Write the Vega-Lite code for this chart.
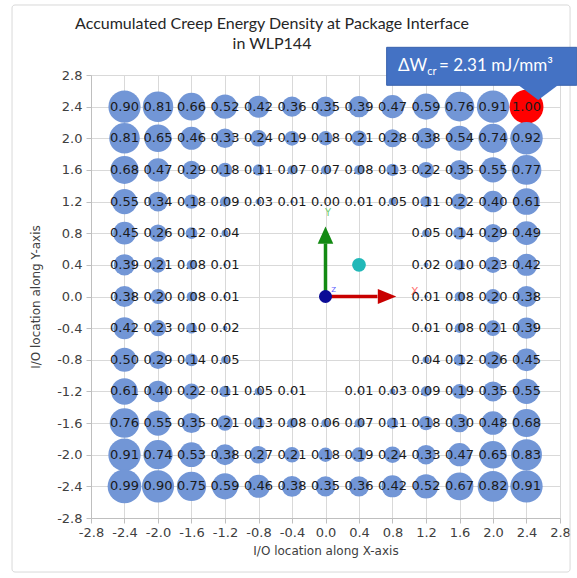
{
  "$schema": "https://vega.github.io/schema/vega-lite/v6.json",
  "width": 469,
  "height": 443,
  "autosize": "none",
  "padding": {"left": 91, "top": 75, "right": 17, "bottom": 60},
  "background": "white",
  "config": {"view": {"stroke": null}, "font": "DejaVu Sans"},
  "datasets": {
    "bubbles": [
      {"x":-2.4,"y":2.4,"v":0.90},{"x":-2.0,"y":2.4,"v":0.81},{"x":-1.6,"y":2.4,"v":0.66},{"x":-1.2,"y":2.4,"v":0.52},{"x":-0.8,"y":2.4,"v":0.42},{"x":-0.4,"y":2.4,"v":0.36},{"x":0,"y":2.4,"v":0.35},{"x":0.4,"y":2.4,"v":0.39},{"x":0.8,"y":2.4,"v":0.47},{"x":1.2,"y":2.4,"v":0.59},{"x":1.6,"y":2.4,"v":0.76},{"x":2.0,"y":2.4,"v":0.91},{"x":2.4,"y":2.4,"v":1.00},
      {"x":-2.4,"y":2.0,"v":0.81},{"x":-2.0,"y":2.0,"v":0.65},{"x":-1.6,"y":2.0,"v":0.46},{"x":-1.2,"y":2.0,"v":0.33},{"x":-0.8,"y":2.0,"v":0.24},{"x":-0.4,"y":2.0,"v":0.19},{"x":0,"y":2.0,"v":0.18},{"x":0.4,"y":2.0,"v":0.21},{"x":0.8,"y":2.0,"v":0.28},{"x":1.2,"y":2.0,"v":0.38},{"x":1.6,"y":2.0,"v":0.54},{"x":2.0,"y":2.0,"v":0.74},{"x":2.4,"y":2.0,"v":0.92},
      {"x":-2.4,"y":1.6,"v":0.68},{"x":-2.0,"y":1.6,"v":0.47},{"x":-1.6,"y":1.6,"v":0.29},{"x":-1.2,"y":1.6,"v":0.18},{"x":-0.8,"y":1.6,"v":0.11},{"x":-0.4,"y":1.6,"v":0.07},{"x":0,"y":1.6,"v":0.07},{"x":0.4,"y":1.6,"v":0.08},{"x":0.8,"y":1.6,"v":0.13},{"x":1.2,"y":1.6,"v":0.22},{"x":1.6,"y":1.6,"v":0.35},{"x":2.0,"y":1.6,"v":0.55},{"x":2.4,"y":1.6,"v":0.77},
      {"x":-2.4,"y":1.2,"v":0.55},{"x":-2.0,"y":1.2,"v":0.34},{"x":-1.6,"y":1.2,"v":0.18},{"x":-1.2,"y":1.2,"v":0.09},{"x":-0.8,"y":1.2,"v":0.03},{"x":-0.4,"y":1.2,"v":0.01},{"x":0,"y":1.2,"v":0.00},{"x":0.4,"y":1.2,"v":0.01},{"x":0.8,"y":1.2,"v":0.05},{"x":1.2,"y":1.2,"v":0.11},{"x":1.6,"y":1.2,"v":0.22},{"x":2.0,"y":1.2,"v":0.40},{"x":2.4,"y":1.2,"v":0.61},
      {"x":-2.4,"y":0.8,"v":0.45},{"x":-2.0,"y":0.8,"v":0.26},{"x":-1.6,"y":0.8,"v":0.12},{"x":-1.2,"y":0.8,"v":0.04},{"x":1.2,"y":0.8,"v":0.05},{"x":1.6,"y":0.8,"v":0.14},{"x":2.0,"y":0.8,"v":0.29},{"x":2.4,"y":0.8,"v":0.49},
      {"x":-2.4,"y":0.4,"v":0.39},{"x":-2.0,"y":0.4,"v":0.21},{"x":-1.6,"y":0.4,"v":0.08},{"x":-1.2,"y":0.4,"v":0.01},{"x":1.2,"y":0.4,"v":0.02},{"x":1.6,"y":0.4,"v":0.10},{"x":2.0,"y":0.4,"v":0.23},{"x":2.4,"y":0.4,"v":0.42},
      {"x":-2.4,"y":0,"v":0.38},{"x":-2.0,"y":0,"v":0.20},{"x":-1.6,"y":0,"v":0.08},{"x":-1.2,"y":0,"v":0.01},{"x":1.2,"y":0,"v":0.01},{"x":1.6,"y":0,"v":0.08},{"x":2.0,"y":0,"v":0.20},{"x":2.4,"y":0,"v":0.38},
      {"x":-2.4,"y":-0.4,"v":0.42},{"x":-2.0,"y":-0.4,"v":0.23},{"x":-1.6,"y":-0.4,"v":0.10},{"x":-1.2,"y":-0.4,"v":0.02},{"x":1.2,"y":-0.4,"v":0.01},{"x":1.6,"y":-0.4,"v":0.08},{"x":2.0,"y":-0.4,"v":0.21},{"x":2.4,"y":-0.4,"v":0.39},
      {"x":-2.4,"y":-0.8,"v":0.50},{"x":-2.0,"y":-0.8,"v":0.29},{"x":-1.6,"y":-0.8,"v":0.14},{"x":-1.2,"y":-0.8,"v":0.05},{"x":1.2,"y":-0.8,"v":0.04},{"x":1.6,"y":-0.8,"v":0.12},{"x":2.0,"y":-0.8,"v":0.26},{"x":2.4,"y":-0.8,"v":0.45},
      {"x":-2.4,"y":-1.2,"v":0.61},{"x":-2.0,"y":-1.2,"v":0.40},{"x":-1.6,"y":-1.2,"v":0.22},{"x":-1.2,"y":-1.2,"v":0.11},{"x":-0.8,"y":-1.2,"v":0.05},{"x":-0.4,"y":-1.2,"v":0.01},{"x":0.4,"y":-1.2,"v":0.01},{"x":0.8,"y":-1.2,"v":0.03},{"x":1.2,"y":-1.2,"v":0.09},{"x":1.6,"y":-1.2,"v":0.19},{"x":2.0,"y":-1.2,"v":0.35},{"x":2.4,"y":-1.2,"v":0.55},
      {"x":-2.4,"y":-1.6,"v":0.76},{"x":-2.0,"y":-1.6,"v":0.55},{"x":-1.6,"y":-1.6,"v":0.35},{"x":-1.2,"y":-1.6,"v":0.21},{"x":-0.8,"y":-1.6,"v":0.13},{"x":-0.4,"y":-1.6,"v":0.08},{"x":0,"y":-1.6,"v":0.06},{"x":0.4,"y":-1.6,"v":0.07},{"x":0.8,"y":-1.6,"v":0.11},{"x":1.2,"y":-1.6,"v":0.18},{"x":1.6,"y":-1.6,"v":0.30},{"x":2.0,"y":-1.6,"v":0.48},{"x":2.4,"y":-1.6,"v":0.68},
      {"x":-2.4,"y":-2.0,"v":0.91},{"x":-2.0,"y":-2.0,"v":0.74},{"x":-1.6,"y":-2.0,"v":0.53},{"x":-1.2,"y":-2.0,"v":0.38},{"x":-0.8,"y":-2.0,"v":0.27},{"x":-0.4,"y":-2.0,"v":0.21},{"x":0,"y":-2.0,"v":0.18},{"x":0.4,"y":-2.0,"v":0.19},{"x":0.8,"y":-2.0,"v":0.24},{"x":1.2,"y":-2.0,"v":0.33},{"x":1.6,"y":-2.0,"v":0.47},{"x":2.0,"y":-2.0,"v":0.65},{"x":2.4,"y":-2.0,"v":0.83},
      {"x":-2.4,"y":-2.4,"v":0.99},{"x":-2.0,"y":-2.4,"v":0.90},{"x":-1.6,"y":-2.4,"v":0.75},{"x":-1.2,"y":-2.4,"v":0.59},{"x":-0.8,"y":-2.4,"v":0.46},{"x":-0.4,"y":-2.4,"v":0.38},{"x":0,"y":-2.4,"v":0.35},{"x":0.4,"y":-2.4,"v":0.36},{"x":0.8,"y":-2.4,"v":0.42},{"x":1.2,"y":-2.4,"v":0.52},{"x":1.6,"y":-2.4,"v":0.67},{"x":2.0,"y":-2.4,"v":0.82},{"x":2.4,"y":-2.4,"v":0.91}
    ],
    "frame": [{"x":-3.743,"x2":2.92,"y":3.685,"y2":-3.483}],
    "titles": [
      {"x":-0.639,"y":3.382,"t":"Accumulated Creep Energy Density at Package Interface"},
      {"x":-0.639,"y":3.129,"t":"in WLP144"}
    ],
    "callout": [{"x":0.73,"x2":3.0,"y":3.15,"y2":2.67}],
    "pointer": [{"x":2.54,"y":2.58}],
    "yshaft": [{"x":0,"y":0,"x2":0,"y2":0.67}],
    "xshaft": [{"x":0,"y":0,"x2":0.62,"y2":0}],
    "yhead": [{"x":0,"y":0.775}],
    "xhead": [{"x":0.735,"y":0}],
    "origin": [{"x":0,"y":0}],
    "sphere": [{"x":0.4,"y":0.4}],
    "xlabel": [{"x":1.02,"y":0.0,"t":"X"}],
    "ylabel": [{"x":0.03,"y":1.06,"t":"Y"}],
    "zlabel": [{"x":0.07,"y":0.05,"t":"Z"}],
    "ct1": [{"x":0.866,"y":2.85,"t":"ΔW"}],
    "ct2": [{"x":1.215,"y":2.80,"t":"cr"}],
    "ct3": [{"x":1.355,"y":2.85,"t":"= 2.31 mJ/mm³"}]
  },
  "encoding": {
    "x": {
      "field": "x", "type": "quantitative",
      "scale": {"domain": [-2.8, 2.8], "nice": false, "zero": false},
      "axis": {
        "values": [-2.8,-2.4,-2,-1.6,-1.2,-0.8,-0.4,0,0.4,0.8,1.2,1.6,2,2.4,2.8],
        "labelExpr": "replace(format(datum.value,'.1f'),'\u2212','-')",
        "title": "I/O location along X-axis",
        "grid": true, "gridColor": "#d9d9d9", "domainColor": "#bfbfbf", "tickColor": "#bfbfbf", "tickSize": 5,
        "labelFont": "DejaVu Sans", "labelFontSize": 13, "labelColor": "#404040", "labelPadding": 3,
        "labelOverlap": false, "labelFlush": false,
        "titleFont": "DejaVu Sans", "titleFontSize": 12, "titleFontWeight": "normal", "titleColor": "#404040", "titlePadding": 6
      }
    },
    "y": {
      "field": "y", "type": "quantitative",
      "scale": {"domain": [-2.8, 2.8], "nice": false, "zero": false},
      "axis": {
        "values": [-2.8,-2.4,-2,-1.6,-1.2,-0.8,-0.4,0,0.4,0.8,1.2,1.6,2,2.4,2.8],
        "labelExpr": "replace(format(datum.value,'.1f'),'\u2212','-')",
        "title": "I/O location along Y-axis",
        "grid": true, "gridColor": "#d9d9d9", "domainColor": "#bfbfbf", "tickColor": "#bfbfbf", "tickSize": 5,
        "labelFont": "DejaVu Sans", "labelFontSize": 13, "labelColor": "#404040", "labelPadding": 4,
        "labelOverlap": false, "labelFlush": false,
        "titleFont": "DejaVu Sans", "titleFontSize": 12, "titleFontWeight": "normal", "titleColor": "#404040", "titlePadding": 14
      }
    }
  },
  "layer": [
    {
      "data": {"name": "frame"},
      "mark": {"type": "rect", "fill": null, "fillOpacity": 0, "stroke": "#d9d9d9", "strokeWidth": 1, "cornerRadius": 3},
      "encoding": {"x2": {"field": "x2"}, "y2": {"field": "y2"}}
    },
    {
      "data": {"name": "titles"},
      "mark": {"type": "text", "font": "Lato", "fontSize": 16, "color": "#262626", "align": "center", "baseline": "alphabetic"},
      "encoding": {"text": {"field": "t"}}
    },
    {
      "data": {"name": "bubbles"},
      "mark": {"type": "circle", "opacity": 1},
      "encoding": {
        "size": {"field": "v", "type": "quantitative", "scale": {"type": "linear", "domain": [0, 1], "range": [0, 1150]}, "legend": null},
        "color": {"condition": {"test": "datum.v >= 1", "value": "#ff0000"}, "value": "#7296d6"}
      }
    },
    {
      "data": {"name": "yshaft"},
      "mark": {"type": "rule", "color": "#138a13", "strokeWidth": 3.5},
      "encoding": {"x2": {"field": "x2"}, "y2": {"field": "y2"}}
    },
    {
      "data": {"name": "xshaft"},
      "mark": {"type": "rule", "color": "#c80000", "strokeWidth": 3.5},
      "encoding": {"x2": {"field": "x2"}, "y2": {"field": "y2"}}
    },
    {
      "data": {"name": "yhead"},
      "mark": {"type": "point", "shape": "M0,-1L-0.9,1L0.9,1Z", "filled": true, "color": "#138a13", "size": 300, "opacity": 1}
    },
    {
      "data": {"name": "xhead"},
      "mark": {"type": "point", "shape": "M1,0L-1,-0.8L-1,0.8Z", "filled": true, "color": "#c80000", "size": 340, "opacity": 1}
    },
    {
      "data": {"name": "origin"},
      "mark": {"type": "circle", "color": "#0b0b96", "size": 170, "opacity": 1}
    },
    {
      "data": {"name": "sphere"},
      "mark": {"type": "circle", "color": "#21b8b8", "size": 190, "opacity": 1}
    },
    {
      "data": {"name": "xlabel"},
      "mark": {"type": "text", "color": "#ff6f6f", "fontSize": 11, "font": "DejaVu Sans", "align": "left", "baseline": "bottom"},
      "encoding": {"text": {"field": "t"}}
    },
    {
      "data": {"name": "ylabel"},
      "mark": {"type": "text", "color": "#6fcf6f", "fontSize": 10, "font": "DejaVu Sans", "align": "center", "baseline": "middle"},
      "encoding": {"text": {"field": "t"}}
    },
    {
      "data": {"name": "zlabel"},
      "mark": {"type": "text", "color": "#5a5aff", "fontSize": 7, "font": "DejaVu Sans", "align": "left", "baseline": "bottom"},
      "encoding": {"text": {"field": "t"}}
    },
    {
      "data": {"name": "bubbles"},
      "mark": {"type": "text", "font": "DejaVu Sans", "fontSize": 13, "color": "#1a1a1a", "align": "center", "baseline": "middle"},
      "encoding": {"text": {"field": "v", "type": "quantitative", "format": ".2f"}}
    },
    {
      "data": {"name": "callout"},
      "mark": {"type": "rect", "color": "#4472c4", "stroke": "#3a63ad", "strokeWidth": 1},
      "encoding": {"x2": {"field": "x2"}, "y2": {"field": "y2"}}
    },
    {
      "data": {"name": "pointer"},
      "mark": {"type": "point", "shape": "M-1,-0.4L1,-0.4L0,0.35Z", "filled": true, "color": "#4472c4", "size": 1936, "opacity": 1}
    },
    {
      "data": {"name": "ct1"},
      "mark": {"type": "text", "font": "Lato", "fontSize": 17, "color": "white", "align": "left", "baseline": "alphabetic"},
      "encoding": {"text": {"field": "t"}}
    },
    {
      "data": {"name": "ct2"},
      "mark": {"type": "text", "font": "Lato", "fontSize": 11, "color": "white", "align": "left", "baseline": "alphabetic"},
      "encoding": {"text": {"field": "t"}}
    },
    {
      "data": {"name": "ct3"},
      "mark": {"type": "text", "font": "Lato", "fontSize": 17, "color": "white", "align": "left", "baseline": "alphabetic"},
      "encoding": {"text": {"field": "t"}}
    }
  ]
}
